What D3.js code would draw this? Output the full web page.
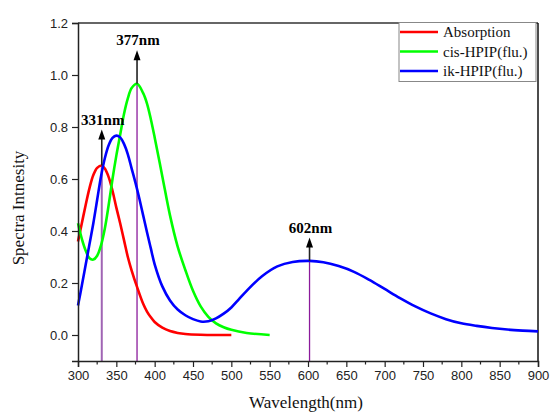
<!DOCTYPE html>
<html><head><meta charset="utf-8">
<script src="https://cdn.jsdelivr.net/npm/d3@7"></script>
<style>body{margin:0;background:#fff}svg{display:block}</style>
</head><body>
<script>
const xTicks = [300,350,400,450,500,550,600,650,700,750,800,850,900];
const yTicks = [0.0,0.2,0.4,0.6,0.8,1.0,1.2];

const absX = [300,305,310,315,320,325,331,335,340,345,350,355,360,365,370,377,385,390,395,400,410,420,430,440,460,480,500];
const absY = [0.36,0.43,0.50,0.565,0.615,0.643,0.652,0.64,0.607,0.555,0.49,0.43,0.365,0.30,0.248,0.185,0.12,0.09,0.068,0.05,0.028,0.015,0.008,0.004,0.001,0.0,0.0];

const cisX = [300,305,310,315,320,325,330,335,340,345,350,355,360,365,370,377,385,390,395,400,410,420,430,440,450,460,470,480,490,500,520,550];
const cisY = [0.43,0.37,0.325,0.295,0.29,0.305,0.345,0.41,0.50,0.60,0.69,0.77,0.85,0.91,0.95,0.966,0.93,0.89,0.83,0.76,0.61,0.46,0.34,0.25,0.17,0.11,0.07,0.045,0.03,0.02,0.008,0.0];

const ikX = [300,305,310,315,320,325,330,335,340,345,350,355,360,365,370,375,380,385,390,395,400,410,420,430,440,450,460,470,480,490,500,510,520,540,560,580,602,620,640,660,680,700,720,740,760,780,800,820,840,860,880,900];
const ikY = [0.113,0.19,0.27,0.35,0.43,0.52,0.61,0.68,0.73,0.758,0.767,0.76,0.735,0.695,0.64,0.585,0.525,0.46,0.395,0.333,0.272,0.187,0.133,0.098,0.076,0.061,0.052,0.053,0.064,0.082,0.106,0.138,0.17,0.226,0.264,0.281,0.285,0.28,0.265,0.243,0.212,0.177,0.142,0.11,0.083,0.061,0.045,0.035,0.027,0.021,0.017,0.014];

const seriesNames = ["Absorption","cis-HPIP(flu.)","ik-HPIP(flu.)"];
const seriesColors = ["#ff0000","#00ff00","#0000ff"];

const peakNm = [331,377,602];
const peakVal = [0.652,0.966,0.285];
const arrowTip = [0.79,1.095,0.375];
const peakLabels = ["331nm","377nm","602nm"];

const W=550,H=416;
const m={l:78,r:12,t:23,b:55};
const svg=d3.select("body").append("svg").attr("width",W).attr("height",H);
const x=d3.scaleLinear().domain([300,900]).range([m.l,W-m.r]);
const y=d3.scaleLinear().domain([-0.1,1.2]).range([H-m.b,m.t]);

// frame
svg.append("line").attr("x1",m.l).attr("x2",W-m.r).attr("y1",m.t).attr("y2",m.t).attr("stroke","#333").attr("stroke-width",1.5);
svg.append("line").attr("x1",W-m.r).attr("x2",W-m.r).attr("y1",m.t).attr("y2",H-m.b).attr("stroke","#111").attr("stroke-width",1.5);

// vertical peak lines
const plColors=["#a064b4","#8b1a9b","#8b1a9b"];
const plW=[2,1.3,1.3];
peakNm.forEach((p,i)=>{
  svg.append("line").attr("x1",x(p)).attr("x2",x(p)).attr("y1",y(-0.1)).attr("y2",y(peakVal[i]))
    .attr("stroke",plColors[i]).attr("stroke-width",plW[i]);
});

// curves
const line=d3.line().x(d=>x(d[0])).y(d=>y(d[1])).curve(d3.curveCatmullRom.alpha(0.5));
const all=[[absX,absY],[cisX,cisY],[ikX,ikY]];
all.forEach((s,i)=>{
  const pts=s[0].map((v,j)=>[v,s[1][j]]);
  svg.append("path").datum(pts).attr("d",line).attr("fill","none")
    .attr("stroke",seriesColors[i]).attr("stroke-width",2.6).attr("stroke-linejoin","round");
});

// arrows
peakNm.forEach((p,i)=>{
  const px=x(p), y0=y(peakVal[i]), y1=y(arrowTip[i]);
  svg.append("line").attr("x1",px).attr("x2",px).attr("y1",y0).attr("y2",y1+8).attr("stroke","#222").attr("stroke-width",1.6);
  svg.append("path").attr("d",`M${px},${y1} L${px-3.5},${y1+10} L${px+3.5},${y1+10} Z`).attr("fill","#000");
  svg.append("text").attr("x",px+1).attr("y",y1-5).attr("text-anchor","middle")
    .attr("font-family","'Liberation Serif','Times New Roman',serif").attr("font-weight","bold").attr("font-size",15)
    .attr("fill","#000").text(peakLabels[i]);
});

// axes
const xAxis=d3.axisBottom(x).tickValues(xTicks).tickSize(6).tickPadding(4).tickFormat(d3.format("d"));
const gx=svg.append("g").attr("transform",`translate(0,${H-m.b})`).call(xAxis);
const minorX=d3.range(325,900,50);
gx.selectAll(".minor").data(minorX).enter().append("line").attr("class","minor")
  .attr("x1",d=>x(d)).attr("x2",d=>x(d)).attr("y1",0).attr("y2",3.5).attr("stroke","#222").attr("stroke-width",1.2);
const yAxis=d3.axisLeft(y).tickValues(yTicks).tickSize(6).tickPadding(4).tickFormat(d3.format(".1f"));
const gy=svg.append("g").attr("transform",`translate(${m.l},0)`).call(yAxis);
[gx,gy].forEach(g=>{
  g.select(".domain").attr("stroke","#222").attr("stroke-width",1.5);
  g.selectAll(".tick line").attr("stroke","#222").attr("stroke-width",1.2);
  g.selectAll(".tick text").attr("font-family","'Liberation Sans',Arial,sans-serif").attr("font-size",13).attr("fill","#222");
});

// axis titles
svg.append("text").attr("x",306).attr("y",408).attr("text-anchor","middle")
  .attr("font-family","'Liberation Serif','Times New Roman',serif").attr("font-size",17).attr("fill","#111").text("Wavelength(nm)");
svg.append("text").attr("transform","translate(24,208) rotate(-90)").attr("text-anchor","middle")
  .attr("font-family","'Liberation Serif','Times New Roman',serif").attr("font-size",17).attr("fill","#111").text("Spectra Intnesity");

// legend
const lg=svg.append("g");
lg.append("rect").attr("x",399).attr("y",22.5).attr("width",137).attr("height",59).attr("fill","#fff").attr("stroke","#888").attr("stroke-width",1);
seriesNames.forEach((n,i)=>{
  const yy=32+i*19.5;
  lg.append("line").attr("x1",400).attr("x2",438).attr("y1",yy).attr("y2",yy).attr("stroke",seriesColors[i]).attr("stroke-width",2.6);
  lg.append("text").attr("x",443).attr("y",yy+5).attr("font-family","'Liberation Serif','Times New Roman',serif")
    .attr("font-size",15).attr("fill","#111").text(n);
});
</script>
</body></html>
